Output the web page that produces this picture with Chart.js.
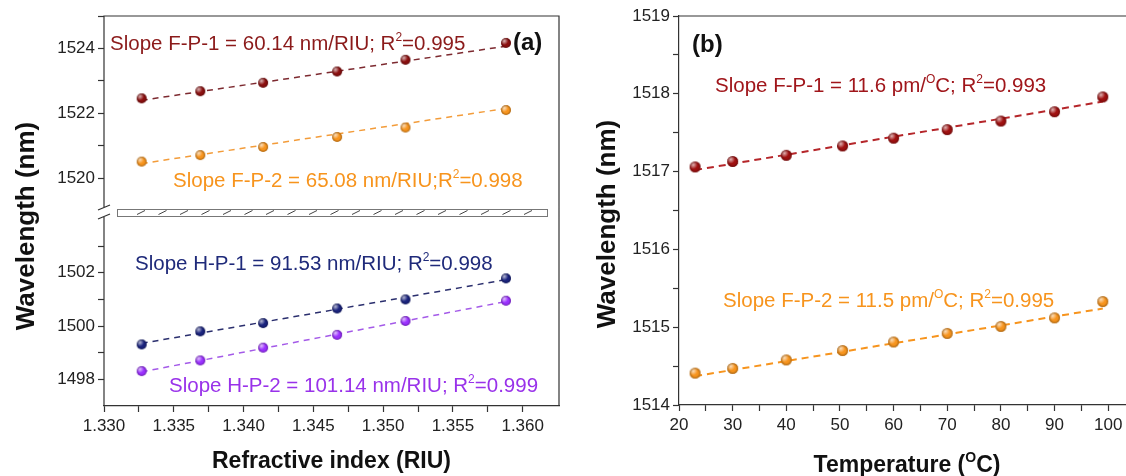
<!DOCTYPE html>
<html>
<head>
<meta charset="utf-8">
<script src="https://cdn.jsdelivr.net/npm/chart.js@4.4.1/dist/chart.umd.min.js"></script>
<style>
  html, body { margin: 0; padding: 0; background: #fff; overflow: hidden; width: 1126px; height: 476px; }
  #chartA { position: absolute; left: 0; top: 0; }
  #chartB { position: absolute; left: 560px; top: 0; }
</style>
</head>
<body>
<canvas id="chartA" width="580" height="476"></canvas>
<canvas id="chartB" width="600" height="476"></canvas>
<script>
// panel (a): refractive index sweep
const riu     = [1.3327, 1.3369, 1.3414, 1.3467, 1.3516, 1.3588];
const fp1A    = [1522.46, 1522.68, 1522.94, 1523.29, 1523.65, 1524.17];
const fp2A    = [1520.51, 1520.71, 1520.96, 1521.27, 1521.56, 1522.10];
const hp1A    = [1499.31, 1499.80, 1500.11, 1500.66, 1501.00, 1501.79];
const hp2A    = [1498.31, 1498.71, 1499.19, 1499.67, 1500.19, 1500.95];
// ends of the dashed fit lines
const riuFit  = [1.3327, 1.3588];
const fp1AFit = [1522.40, 1524.07];
const fp2AFit = [1520.45, 1522.15];
const hp1AFit = [1499.35, 1501.74];
const hp2AFit = [1498.28, 1500.92];

// panel (b): temperature sweep
const temps   = [23, 30, 40, 50.5, 60, 70, 80, 90, 99];
const fp1B    = [1517.06, 1517.13, 1517.21, 1517.33, 1517.43, 1517.54, 1517.65, 1517.77, 1517.96];
const fp2B    = [1514.41, 1514.47, 1514.58, 1514.70, 1514.81, 1514.92, 1515.01, 1515.12, 1515.33];
const tempFit = [23, 99];
const fp1BFit = [1517.02, 1517.90];
const fp2BFit = [1514.37, 1515.24];

// ticks
const xTicksA   = [1.330, 1.335, 1.340, 1.345, 1.350, 1.355, 1.360];
const xMinorA   = [1.3325, 1.3375, 1.3425, 1.3475, 1.3525, 1.3575];
const yTicksTop = [1520, 1522, 1524];
const yMinorTop = [1521, 1523, 1525];
const yTicksBot = [1498, 1500, 1502];
const yMinorBot = [1499, 1501, 1503];
const xTicksB   = [20, 30, 40, 50, 60, 70, 80, 90, 100];
const xMinorB   = [25, 35, 45, 55, 65, 75, 85, 95];
const yTicksB   = [1514, 1515, 1516, 1517, 1518, 1519];
const yMinorB   = [1514.5, 1515.5, 1516.5, 1517.5, 1518.5];

const FONT = "'Liberation Sans', Arial, sans-serif";
Chart.defaults.font.family = FONT;
Chart.defaults.font.size = 17;
Chart.defaults.color = '#222';

//shaded ball marker
function sphere(color, r) {
    const c = document.createElement('canvas');
    c.width = c.height = 2 * r + 2;
    const g = c.getContext('2d');
    const cx = r + 1, cy = r + 1;
    g.beginPath(); g.arc(cx, cy, r, 0, Math.PI * 2);
    g.fillStyle = color; g.fill();
    const hi = g.createRadialGradient(cx - r * 0.35, cy - r * 0.4, 0, cx - r * 0.35, cy - r * 0.4, r * 0.8);
    hi.addColorStop(0, 'rgba(255,255,255,0.7)');
    hi.addColorStop(1, 'rgba(255,255,255,0)');
    g.fillStyle = hi; g.fill();
    const sh = g.createRadialGradient(cx, cy, r * 0.55, cx, cy, r);
    sh.addColorStop(0, 'rgba(0,0,0,0)');
    sh.addColorStop(1, 'rgba(0,0,0,0.3)');
    g.fillStyle = sh; g.fill();
    return c;
}

const pts = (xs, ys) => xs.map((x, i) => ({ x, y: ys[i] }));

function dots(xs, ys, color, r, axis) {
    return { data: pts(xs, ys), yAxisID: axis, pointStyle: sphere(color, r), pointRadius: r, showLine: false };
}

function fit(xs, ys, color, w, dash, axis) {
    return { data: pts(xs, ys), yAxisID: axis, showLine: true, borderColor: color, borderWidth: w,
             borderDash: dash, pointRadius: 0, fill: false };
}

function setTicks(major, minor) {
    return (scale) => {
        scale.ticks = [...major, ...minor].sort((a, b) => a - b).map(v => ({ value: v }));
    };
}

function label(major, digits) {
    return (v) => major.some(m => Math.abs(m - v) < 1e-6) ? v.toFixed(digits) : '';
}

// text with ^superscript parts
function richWidth(ctx, parts, size, weight) {
    let w = 0;
    parts.forEach(p => {
        const sup = p.startsWith('^');
        ctx.font = `${weight} ${sup ? Math.round(size * 0.6) : size}px ${FONT}`;
        w += ctx.measureText(sup ? p.slice(1) : p).width;
    });
    return w;
}

function drawRich(ctx, parts, x, y, size, color, weight = 'normal', align = 'left') {
    ctx.save();
    ctx.fillStyle = color;
    ctx.textBaseline = 'alphabetic';
    ctx.textAlign = 'left';
    let cx = align === 'center' ? x - richWidth(ctx, parts, size, weight) / 2 : x;
    parts.forEach(p => {
        const sup = p.startsWith('^');
        const txt = sup ? p.slice(1) : p;
        ctx.font = `${weight} ${sup ? Math.round(size * 0.6) : size}px ${FONT}`;
        ctx.fillText(txt, cx, sup ? y - size * 0.42 : y);
        cx += ctx.measureText(txt).width;
    });
    ctx.restore();
}

function yTitle(ctx, text, x, y, size) {
    ctx.save();
    ctx.translate(x, y);
    ctx.rotate(-Math.PI / 2);
    ctx.font = `bold ${size}px ${FONT}`;
    ctx.fillStyle = '#111';
    ctx.textAlign = 'center';
    ctx.textBaseline = 'middle';
    ctx.fillText(text, 0, 0);
    ctx.restore();
}

const notesA = [
    { parts: ['Slope F-P-1 = 60.14 nm/RIU; R', '^2', '=0.995'], x: 110, y: 50, color: '#8b1a1a' },
    { parts: ['Slope F-P-2 = 65.08 nm/RIU;R', '^2', '=0.998'], x: 173, y: 187, color: '#f7941d' },
    { parts: ['Slope H-P-1 = 91.53 nm/RIU; R', '^2', '=0.998'], x: 135, y: 270, color: '#1f2a7a' },
    { parts: ['Slope H-P-2 = 101.14 nm/RIU; R', '^2', '=0.999'], x: 169, y: 392, color: '#9932ea' },
];
const notesB = [
    { parts: ['Slope F-P-1 = 11.6 pm/', '^O', 'C; R', '^2', '=0.993'], x: 155, y: 92, color: '#a0161b' },
    { parts: ['Slope F-P-2 = 11.5 pm/', '^O', 'C; R', '^2', '=0.995'], x: 163, y: 307, color: '#f7941d' },
];

const frameA = {
    id: 'frameA',
    afterDraw(chart) {
        const { ctx, chartArea: a } = chart;
        const split = chart.scales.yTop.bottom;
        const bTop = split - 3.5, bBot = split + 3.5;
        ctx.save();
        ctx.strokeStyle = '#333';
        ctx.lineWidth = 1.2;
        ctx.beginPath();
        ctx.moveTo(a.left, bTop - 1); ctx.lineTo(a.left, a.top); ctx.lineTo(a.right, a.top); ctx.lineTo(a.right, a.bottom);
        ctx.moveTo(a.left, bBot + 1); ctx.lineTo(a.left, a.bottom);
        // axis break marks
        ctx.moveTo(a.left - 6, bTop + 1); ctx.lineTo(a.left + 6, bTop - 4);
        ctx.moveTo(a.left - 6, bBot + 3); ctx.lineTo(a.left + 6, bBot - 2);
        ctx.stroke();
        // hatched break band
        const bl = a.left + 13, br = a.right - 12;
        ctx.fillStyle = '#fff';
        ctx.fillRect(bl, bTop, br - bl, bBot - bTop);
        ctx.strokeStyle = '#777';
        ctx.lineWidth = 1;
        ctx.strokeRect(bl + 0.5, bTop + 0.5, br - bl, bBot - bTop);
        ctx.strokeStyle = '#444';
        ctx.beginPath();
        for (let x = bl + 24; x < br - 10; x += 21.5) {
            ctx.moveTo(x - 4, bBot - 1.5); ctx.lineTo(x + 4, bTop + 1.5);
        }
        ctx.stroke();
        ctx.restore();

        notesA.forEach(n => drawRich(ctx, n.parts, n.x, n.y, 20.5, n.color));
        drawRich(ctx, ['(a)'], 513, 50, 24, '#111', 'bold');
        yTitle(ctx, 'Wavelength (nm)', 27, 226, 26);
        drawRich(ctx, ['Refractive index (RIU)'], (a.left + a.right) / 2, 468, 23, '#111', 'bold', 'center');
    }
};

const frameB = {
    id: 'frameB',
    afterDraw(chart) {
        const { ctx, chartArea: a } = chart;
        ctx.save();
        ctx.strokeStyle = '#333';
        ctx.lineWidth = 1.2;
        ctx.beginPath();
        ctx.moveTo(a.left, a.top); ctx.lineTo(a.right, a.top); ctx.lineTo(a.right, a.bottom);
        ctx.stroke();
        ctx.restore();

        notesB.forEach(n => drawRich(ctx, n.parts, n.x, n.y, 20.5, n.color));
        drawRich(ctx, ['(b)'], 132, 52, 24, '#111', 'bold');
        yTitle(ctx, 'Wavelength (nm)', 48, 224, 26);
        drawRich(ctx, ['Temperature (', '^O', 'C)'], (a.left + a.right) / 2, 472, 23, '#111', 'bold', 'center');
    }
};

const gridOpts  = { drawOnChartArea: false, tickLength: 6, color: '#333', tickWidth: 1.2 };
const tickFont  = { size: 17 };

function yAxisA(major, minor, min, max, weight, stackWeight) {
    return {
        type: 'linear', position: 'left', stack: 'wl', stackWeight, weight, min, max,
        afterBuildTicks: setTicks(major, minor),
        afterFit: (s) => { s.width = 104; },
        ticks: { callback: label(major, 0), autoSkip: false, padding: 3, font: tickFont, color: '#222' },
        grid: gridOpts,
        border: { display: false }
    };
}

new Chart(document.getElementById('chartA'), {
    type: 'scatter',
    data: {
        datasets: [
            dots(riu, fp1A, '#8b0f0f', 5, 'yTop'),
            dots(riu, fp2A, '#f7941d', 5, 'yTop'),
            dots(riu, hp1A, '#1a237e', 5, 'yBot'),
            dots(riu, hp2A, '#9b30ff', 5, 'yBot'),
            fit(riuFit, fp1AFit, '#7d2a30', 1.5, [6, 5], 'yTop'),
            fit(riuFit, fp2AFit, '#f39c3a', 1.5, [6, 5], 'yTop'),
            fit(riuFit, hp1AFit, '#2b2f6e', 1.5, [6, 5], 'yBot'),
            fit(riuFit, hp2AFit, '#a45ae8', 1.5, [6, 5], 'yBot'),
        ]
    },
    options: {
        responsive: false,
        animation: false,
        devicePixelRatio: 1,
        layout: { padding: { top: 16, right: 21, left: 0, bottom: 0 } },
        plugins: { legend: { display: false }, tooltip: { enabled: false } },
        scales: {
            x: {
                type: 'linear', min: 1.330, max: 1.3626,
                afterBuildTicks: setTicks(xTicksA, xMinorA),
                afterFit: (s) => { s.height = 70; },
                ticks: { callback: label(xTicksA, 3), autoSkip: false, maxRotation: 0, padding: 4, font: tickFont, color: '#222' },
                grid: gridOpts,
                border: { color: '#333', width: 1.2 }
            },
            yBot: yAxisA(yTicksBot, yMinorBot, 1497, 1504.26, 1, 193.5),
            yTop: yAxisA(yTicksTop, yMinorTop, 1518.94, 1525, 2, 196.5)
        }
    },
    plugins: [frameA]
});

new Chart(document.getElementById('chartB'), {
    type: 'scatter',
    data: {
        datasets: [
            dots(temps, fp1B, '#a01010', 5.5, 'y'),
            dots(temps, fp2B, '#f7941d', 5.5, 'y'),
            fit(tempFit, fp1BFit, '#b5262a', 2, [7, 5], 'y'),
            fit(tempFit, fp2BFit, '#f7941d', 2, [7, 5], 'y'),
        ]
    },
    options: {
        responsive: false,
        animation: false,
        devicePixelRatio: 1,
        layout: { padding: { top: 16, right: 25, left: 0, bottom: 0 } },
        plugins: { legend: { display: false }, tooltip: { enabled: false } },
        scales: {
            x: {
                type: 'linear', min: 20, max: 105,
                afterBuildTicks: setTicks(xTicksB, xMinorB),
                afterFit: (s) => { s.height = 71; },
                ticks: { callback: label(xTicksB, 0), autoSkip: false, maxRotation: 0, padding: 4, font: tickFont, color: '#222' },
                grid: gridOpts,
                border: { color: '#333', width: 1.2 }
            },
            y: {
                type: 'linear', min: 1514, max: 1519,
                afterBuildTicks: setTicks(yTicksB, yMinorB),
                afterFit: (s) => { s.width = 119; },
                ticks: { callback: label(yTicksB, 0), autoSkip: false, padding: 3, font: tickFont, color: '#222' },
                grid: gridOpts,
                border: { color: '#333', width: 1.2 }
            }
        }
    },
    plugins: [frameB]
});
</script>
</body>
</html>
